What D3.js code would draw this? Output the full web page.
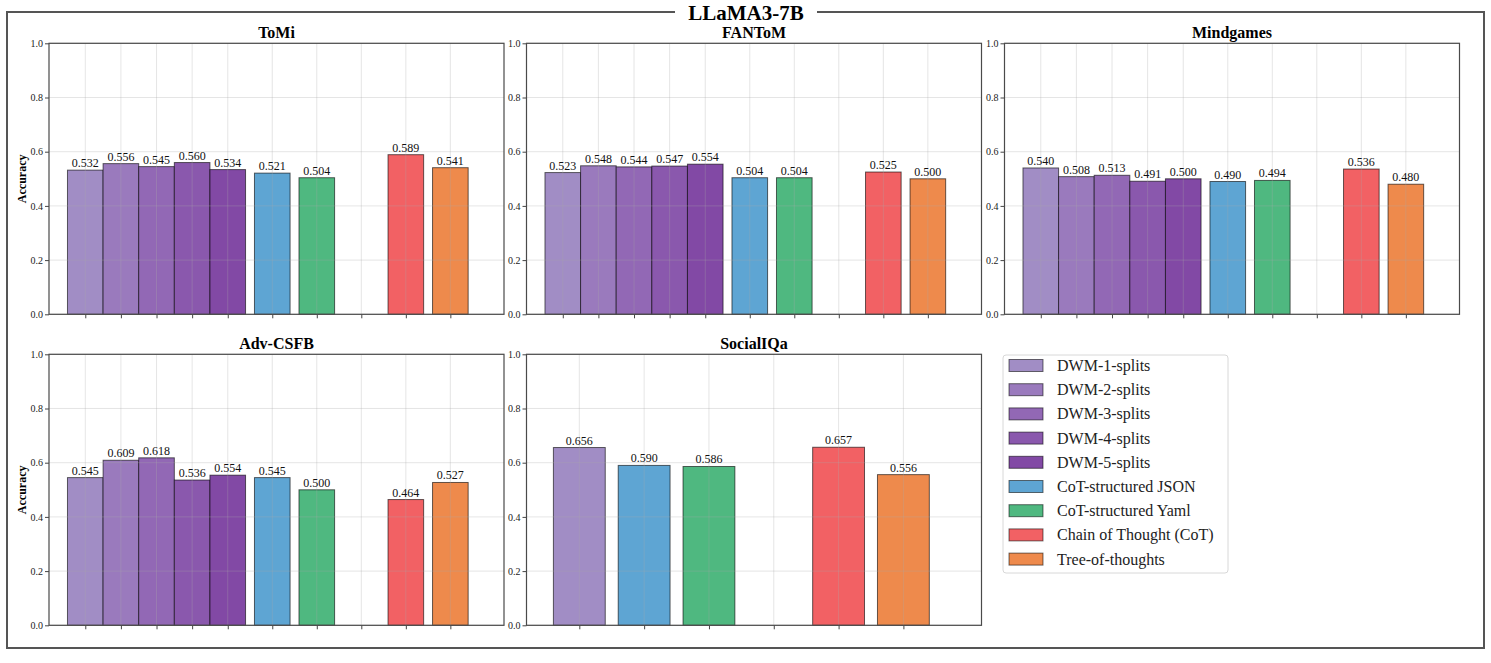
<!DOCTYPE html>
<html>
<head>
<meta charset="utf-8">
<script src="https://cdn.jsdelivr.net/npm/d3@7"></script>
<style>
  html, body { margin: 0; padding: 0; background: #fff; }
  svg { display: block; }
  text { font-family: "Liberation Serif", "Times New Roman", "DejaVu Serif", serif; }
</style>
</head>
<body>
<svg id="chart" width="1491" height="663"></svg>
<script>
// ---------------- DATA ----------------
const chartTitle = "LLaMA3-7B";
const methods = [
  "DWM-1-splits", "DWM-2-splits", "DWM-3-splits", "DWM-4-splits", "DWM-5-splits",
  "CoT-structured JSON", "CoT-structured Yaml", "Chain of Thought (CoT)", "Tree-of-thoughts"
];
const datasets = ["ToMi", "FANToM", "Mindgames", "Adv-CSFB", "SocialIQa"];
const tomiValues      = [0.532, 0.556, 0.545, 0.560, 0.534, 0.521, 0.504, 0.589, 0.541];
const fantomValues    = [0.523, 0.548, 0.544, 0.547, 0.554, 0.504, 0.504, 0.525, 0.500];
const mindgamesValues = [0.540, 0.508, 0.513, 0.491, 0.500, 0.490, 0.494, 0.536, 0.480];
const advCsfbValues   = [0.545, 0.609, 0.618, 0.536, 0.554, 0.545, 0.500, 0.464, 0.527];
const socialIqaValues = [0.656, null, null, null, null, 0.590, 0.586, 0.657, 0.556];
const yTickValues = [0.0, 0.2, 0.4, 0.6, 0.8, 1.0];
const yAxisLabel = "Accuracy";

// ---------------- STYLE ----------------
const colors = ["#a18dc5", "#9a7abd", "#9268b5", "#8a58ad", "#8249a5",
                "#5ea5d3", "#4fb880", "#f26164", "#ee8a4c"];
const valuesByDataset = [tomiValues, fantomValues, mindgamesValues, advCsfbValues, socialIqaValues];

const svg = d3.select("#chart");
const serif = '"Liberation Serif", "Times New Roman", serif';

// Outer frame
svg.append("rect").attr("x", 7).attr("y", 12).attr("width", 1477).attr("height", 636)
  .attr("fill", "none").attr("stroke", "#555").attr("stroke-width", 2);
svg.append("rect").attr("x", 675).attr("y", 2).attr("width", 142).attr("height", 22).attr("fill", "#fff");
svg.append("text").attr("x", 746).attr("y", 19.5).attr("text-anchor", "middle")
  .attr("font-size", 21).attr("font-weight", "bold").attr("fill", "#000").text(chartTitle);

// Panel layout
const colX = [49, 526.5, 1004.5];
const rowY = [43.3, 354.3];
const pw = 455, ph = 271;
const panelPos = [[0,0],[1,0],[2,0],[0,1],[1,1]];

function layoutPositions(vals) {
  // DWM bars adjacent (width 0.8), other methods spaced by 1 unit, one empty slot before CoT.
  const bw = 0.8;
  const present = vals.map(v => v !== null);
  const pos = [];
  const ticks = [];
  let dwmCount = 0;
  for (let i = 0; i < 5; i++) {
    if (present[i]) { pos[i] = dwmCount * bw; ticks.push(pos[i]); dwmCount++; }
  }
  const last = (dwmCount - 1) * bw;
  pos[5] = last + 1; ticks.push(pos[5]);
  pos[6] = last + 2; ticks.push(pos[6]);
  ticks.push(last + 3); // empty slot
  pos[7] = last + 4; ticks.push(pos[7]);
  pos[8] = last + 5; ticks.push(pos[8]);
  return { pos, ticks, bw, max: last + 5 };
}

datasets.forEach((name, di) => {
  const vals = valuesByDataset[di];
  const [c, r] = panelPos[di];
  const x0 = colX[c], y0 = rowY[r];
  const L = layoutPositions(vals);
  const x = d3.scaleLinear().domain([-0.815, L.max + 1.205]).range([0, pw]);
  const y = d3.scaleLinear().domain([0, 1]).range([ph, 0]);
  const g = svg.append("g").attr("transform", `translate(${x0},${y0})`);
  const unit = x(1) - x(0);

  // bars
  const bars = methods.map((m, i) => ({ m, i, v: vals[i], p: L.pos[i] })).filter(d => d.v !== null);
  g.selectAll("rect.bar").data(bars).enter().append("rect")
    .attr("class", "bar")
    .attr("x", d => x(d.p - L.bw / 2))
    .attr("width", L.bw * unit)
    .attr("y", d => y(d.v))
    .attr("height", d => y(0) - y(d.v))
    .attr("fill", d => colors[d.i])
    .attr("stroke", "rgba(0,0,0,0.6)")
    .attr("stroke-width", 1);

  // grid on top (light)
  g.selectAll("line.vg").data(L.ticks).enter().append("line")
    .attr("x1", d => x(d)).attr("x2", d => x(d)).attr("y1", 0).attr("y2", ph)
    .attr("stroke", "rgba(170,170,170,0.3)").attr("stroke-width", 1);
  g.selectAll("line.hg").data(yTickValues).enter().append("line")
    .attr("x1", 0).attr("x2", pw).attr("y1", d => y(d)).attr("y2", d => y(d))
    .attr("stroke", "rgba(170,170,170,0.3)").attr("stroke-width", 1);

  // value labels
  g.selectAll("text.val").data(bars).enter().append("text")
    .attr("x", d => x(d.p)).attr("y", d => y(d.v) - 3)
    .attr("text-anchor", "middle").attr("font-size", 12).attr("fill", "#111")
    .text(d => d3.format(".3f")(d.v));

  // axes
  const yAxis = d3.axisLeft(y).tickValues(yTickValues).tickFormat(d3.format(".1f")).tickSize(4).tickPadding(2);
  const ya = g.append("g").call(yAxis);
  ya.select(".domain").remove();
  ya.selectAll("line").attr("stroke", "#444");
  ya.selectAll("text").attr("font-size", 10).attr("font-family", serif).attr("fill", "#222");

  const xAxis = d3.axisBottom(x).tickValues(L.ticks).tickFormat("").tickSize(4);
  const xa = g.append("g").attr("transform", `translate(0,${ph})`).call(xAxis);
  xa.select(".domain").remove();
  xa.selectAll("line").attr("stroke", "#444");

  // spines
  g.append("rect").attr("x", 0).attr("y", 0).attr("width", pw).attr("height", ph)
    .attr("fill", "none").attr("stroke", "#4a4a4a").attr("stroke-width", 1.2);

  // panel title
  g.append("text").attr("x", pw / 2).attr("y", -5).attr("text-anchor", "middle")
    .attr("font-size", 16).attr("font-weight", "bold").attr("fill", "#000").text(name);

  // y label on left column
  if (c === 0) {
    g.append("text").attr("transform", `translate(${22 - x0},${ph / 2}) rotate(-90)`)
      .attr("text-anchor", "middle").attr("dominant-baseline", "central")
      .attr("font-size", 12).attr("font-weight", "bold").attr("fill", "#000").text(yAxisLabel);
  }
});

// Legend
const lg = svg.append("g");
lg.append("rect").attr("x", 1003).attr("y", 355).attr("width", 225).attr("height", 218)
  .attr("rx", 3).attr("fill", "#fff").attr("stroke", "#d8d8d8").attr("stroke-width", 1);
const items = lg.selectAll("g.item").data(methods).enter().append("g")
  .attr("transform", (d, i) => `translate(0,${365.5 + i * 24.2})`);
items.append("rect").attr("x", 1009).attr("y", -6).attr("width", 34).attr("height", 12)
  .attr("fill", (d, i) => colors[i]).attr("stroke", "rgba(0,0,0,0.55)").attr("stroke-width", 1);
items.append("text").attr("x", 1057).attr("y", 5.5).attr("font-size", 16).attr("fill", "#222")
  .text(d => d);
</script>
</body>
</html>
